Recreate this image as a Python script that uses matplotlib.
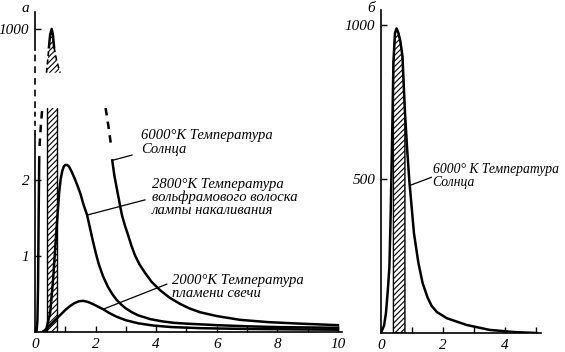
import numpy as np
import matplotlib
matplotlib.use('Agg')
import matplotlib.pyplot as plt

plt.rcParams['font.family'] = ['Liberation Serif', 'DejaVu Serif']
plt.rcParams['font.style'] = 'italic'
plt.rcParams['hatch.linewidth'] = 0.8

# --- panel а, lower part of the broken scale ---
sun_rise_x = [0.05, 0.08, 0.10, 0.12, 0.14]
sun_rise_y = [0.0, 0.15, 0.6, 1.5, 2.3]
sun_rise_dash_x = [0.15, 0.19, 0.24]
sun_rise_dash_y = [2.45, 2.7, 2.95]
sun_fall_dash_x = [2.33, 2.42, 2.50]
sun_fall_dash_y = [2.95, 2.72, 2.49]
sun_tail_x = [2.55, 2.62, 2.71, 2.8, 2.87, 2.97, 3.07, 3.18, 3.30, 3.45, 3.63, 3.85, 4.13,
              4.45, 4.79, 5.1, 5.45, 6.0, 6.77, 7.7, 8.75, 10.0]
sun_tail_y = [2.26, 2.06, 1.87, 1.68, 1.54, 1.4, 1.28, 1.14, 1.01, 0.89, 0.78, 0.66, 0.55,
              0.45, 0.37, 0.31, 0.26, 0.21, 0.16, 0.13, 0.11, 0.09]

lamp_x = [0.35, 0.5, 0.6, 0.7, 0.8, 0.85, 0.9, 0.95, 1.0, 1.06, 1.12, 1.2, 1.3, 1.4, 1.5, 1.6,
          1.72, 1.82, 1.91, 2.0, 2.1, 2.24, 2.4, 2.55, 2.7, 2.85, 3.0, 3.2, 3.4, 3.8, 4.2,
          4.6, 5.0, 6.0, 7.0, 8.0, 9.0, 10.0]
lamp_y = [0.0, 0.25, 0.7, 1.3, 1.85, 2.02, 2.12, 2.18, 2.2, 2.2, 2.18, 2.12, 2.03, 1.93, 1.82,
          1.68, 1.54, 1.36, 1.2, 1.05, 0.9, 0.74, 0.6, 0.5, 0.42, 0.36, 0.31, 0.26, 0.22,
          0.17, 0.14, 0.12, 0.11, 0.09, 0.075, 0.065, 0.06, 0.055]

candle_x = [0.25, 0.4, 0.6, 0.8, 1.0, 1.15, 1.3, 1.45, 1.6, 1.75, 1.9, 2.05, 2.25, 2.45, 2.7,
            3.0, 3.4, 3.9, 4.5, 5.5, 7.0, 8.5, 10.0]
candle_y = [0.0, 0.05, 0.13, 0.21, 0.29, 0.34, 0.38, 0.405, 0.41, 0.395, 0.37, 0.34, 0.30,
            0.25, 0.2, 0.155, 0.115, 0.085, 0.065, 0.05, 0.04, 0.035, 0.03]

# --- panel а, upper part (peak near 1000) ---
peak_x = [0.38, 0.42, 0.46, 0.50, 0.55, 0.59, 0.63, 0.72, 0.83]
peak_y = [845, 890, 935, 980, 1000, 980, 935, 885, 845]

# visible band, micrometres
band_left = (0.40, 0.73)
band_right = (0.40, 0.77)

# --- panel б ---
sun_x = [0.0, 0.1, 0.16, 0.22, 0.27, 0.31, 0.34, 0.37, 0.40, 0.45, 0.50, 0.56, 0.62, 0.69, 0.77,
         0.84, 0.91, 1.06, 1.2, 1.34, 1.5, 1.63, 1.8, 2.12, 2.76, 3.5, 4.3, 5.0]
sun_y = [0, 25, 65, 140, 214, 380, 540, 700, 880, 975, 990, 975, 950, 900, 720,
         600, 497, 325, 230, 162, 115, 88, 68, 48, 26, 10, 3, 0]

lw_curve = 1.8
lw_axis = 1.2
fs = 11

fig = plt.figure(figsize=(5.65, 3.52), dpi=100)
ax_lo = fig.add_axes([35/565, 20/352, 307.5/565, 224/352])
ax_hi = fig.add_axes([35/565, 244/352, 307.5/565, 96/352])
ax_r = fig.add_axes([381/565, 19/352, 160/565, 323/352])

# lower left
ax_lo.axvspan(*band_left, facecolor='white', edgecolor='k', hatch='//////', lw=0)
ax_lo.axvline(band_left[0], color='k', lw=1.0)
ax_lo.axvline(band_left[1], color='k', lw=1.0)
ax_lo.plot(sun_rise_x, sun_rise_y, color='k', lw=lw_curve)
ax_lo.plot(sun_rise_dash_x, sun_rise_dash_y, color='k', lw=lw_curve, ls=(0, (3, 2.5)))
ax_lo.plot(sun_fall_dash_x, sun_fall_dash_y, color='k', lw=lw_curve, ls=(0, (3, 2.5)))
ax_lo.plot(sun_tail_x, sun_tail_y, color='k', lw=lw_curve)
ax_lo.plot(lamp_x, lamp_y, color='k', lw=lw_curve)
ax_lo.plot(candle_x, candle_y, color='k', lw=lw_curve)

ax_lo.set_xlim(0, 10.15)
ax_lo.set_ylim(0, 2.95)
for s in ['top', 'right', 'left']:
    ax_lo.spines[s].set_visible(False)
ax_lo.spines['bottom'].set_linewidth(lw_axis)
ax_lo.plot([0, 0], [0, 0.88], transform=ax_lo.transAxes, color='k', lw=lw_axis, clip_on=False)
ax_lo.plot([0, 0], [0.88, 1.0], transform=ax_lo.transAxes, color='k', lw=lw_axis,
           ls=(0, (3, 2.5)), clip_on=False)
ax_lo.set_xticks(range(0, 11))
ax_lo.set_xticklabels([str(i) if i % 2 == 0 else '' for i in range(0, 11)])
ax_lo.set_yticks([1, 2])
ax_lo.set_yticklabels(['1', '2'])
ax_lo.tick_params(direction='in', length=4, width=1, labelsize=fs, pad=4)

# leaders and labels
ax_lo.plot([2.55, 3.2], [2.26, 2.33], color='k', lw=0.9)
ax_lo.text(3.5, 2.68, '6000°K Температура\nСолнца', fontsize=10.5, va='top', ha='left',
           linespacing=1.1)
ax_lo.plot([1.72, 3.63], [1.54, 1.74], color='k', lw=0.9)
ax_lo.text(3.86, 2.03, '2800°K Температура\nвольфрамового волоска\nлампы накаливания',
           fontsize=10.5, va='top', ha='left', linespacing=1.0)
ax_lo.plot([2.25, 4.35], [0.30, 0.63], color='k', lw=0.9)
ax_lo.text(4.52, 0.76, '2000°K Температура\nпламени свечи', fontsize=10.5, va='top',
           ha='left', linespacing=1.0)

# upper left
ax_hi.fill_between(peak_x, min(peak_y), peak_y, facecolor='white', edgecolor='k',
                   hatch='//////', lw=0)
ax_hi.plot(peak_x[2:7], peak_y[2:7], color='k', lw=lw_curve)
ax_hi.plot(peak_x[:3], peak_y[:3], color='k', lw=1.2, ls=(0, (3, 2)))
ax_hi.plot(peak_x[6:], peak_y[6:], color='k', lw=1.2, ls=(0, (3, 2)))
ax_hi.set_xlim(0, 10.15)
ax_hi.set_ylim(720, 1060)
for s in ax_hi.spines.values():
    s.set_visible(False)
ax_hi.plot([0, 0], [0.6, 1.0], transform=ax_hi.transAxes, color='k', lw=lw_axis, clip_on=False)
ax_hi.plot([0, 0], [0.0, 0.6], transform=ax_hi.transAxes, color='k', lw=lw_axis,
           ls=(0, (4, 3)), clip_on=False)
ax_hi.set_xticks([])
ax_hi.set_yticks([1000])
ax_hi.set_yticklabels(['1000'])
ax_hi.tick_params(direction='in', length=4, width=1, labelsize=fs, pad=4)

# right panel
sx = np.array(sun_x)
sy = np.array(sun_y)
ax_r.fill_between(sx, 0, sy, where=(sx >= band_right[0]) & (sx <= band_right[1]),
                  facecolor='white', edgecolor='k', hatch='//////', lw=1.0)
ax_r.plot(sun_x, sun_y, color='k', lw=lw_curve)
ax_r.set_xlim(0, 5.15)
ax_r.set_ylim(0, 1050)
for s in ['top', 'right']:
    ax_r.spines[s].set_visible(False)
for s in ['left', 'bottom']:
    ax_r.spines[s].set_linewidth(lw_axis)
ax_r.set_xticks(range(0, 6))
ax_r.set_xticklabels([str(i) if i % 2 == 0 else '' for i in range(0, 6)])
ax_r.set_yticks([500, 1000])
ax_r.set_yticklabels(['500', '1000'])
ax_r.tick_params(direction='in', length=4, width=1, labelsize=fs, pad=4)
ax_r.plot([0.94, 1.62], [480, 506], color='k', lw=0.9)
ax_r.text(1.66, 552, '6000° К Температура\nСолнца', fontsize=9.8, va='top', ha='left',
          linespacing=1.0)

fig.text(25/565, 1 - 8/352, 'а', fontsize=fs, ha='center', va='center')
fig.text(371/565, 1 - 8/352, 'б', fontsize=fs, ha='center', va='center')

fig.savefig('out.png', dpi=100)
